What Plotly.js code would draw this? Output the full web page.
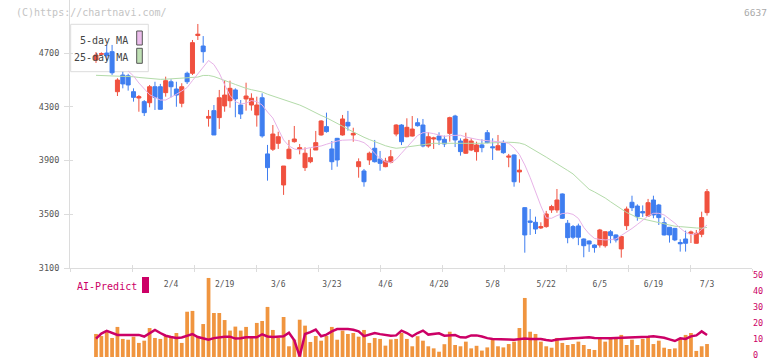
<!DOCTYPE html>
<html><head><meta charset="utf-8">
<script src="https://cdn.plot.ly/plotly-3.0.1.min.js"></script>
<style>html,body{margin:0;padding:0;background:#fff;}#chart{width:772px;height:361px;}</style>
</head><body><div id="chart"></div>
<script>
const dates = ['1/15','1/16','1/19','1/20','1/21','1/22','1/23','1/26','1/27','1/28','1/29','1/30',
'2/2','2/3','2/4','2/5','2/6','2/9','2/10','2/12','2/13','2/16','2/17','2/18','2/19','2/20','2/24','2/25','2/26','2/27',
'3/2','3/3','3/4','3/5','3/6','3/9','3/10','3/11','3/12','3/13','3/16','3/17','3/18','3/19','3/23','3/24','3/25','3/26','3/27','3/30','3/31',
'4/1','4/2','4/3','4/6','4/7','4/8','4/9','4/10','4/13','4/14','4/15','4/16','4/17','4/20','4/21','4/22','4/23','4/24','4/27','4/28','4/30',
'5/1','5/7','5/8','5/11','5/12','5/13','5/14','5/15','5/18','5/19','5/20','5/21','5/22','5/25','5/26','5/27','5/28','5/29',
'6/1','6/2','6/3','6/4','6/5','6/8','6/9','6/10','6/11','6/12','6/15','6/16','6/17','6/18','6/19','6/22','6/23','6/24','6/25','6/26','6/29','6/30',
'7/1','7/2','7/3'];
const tickDates = ['2/4','2/19','3/6','3/23','4/6','4/20','5/8','5/22','6/5','6/19','7/3'];
const priceTicks = [3100,3500,3900,4300,4700];
const rightTicks = [0,10,20,30,40,50];

const openP = [4648,4690,4700,4710,4412,4536,4530,4412,4365,4338,4330,4449,4449,4405,4486,4432,4326,4549,4549,4830,
4752,4215,4271,4219,4306,4345,4425,4313,4358,4313,4239,4367,3949,3984,4028,3718,3914,4040,3985,3847,
3891,3978,4090,4152,3986,4065,4090,4184,4090,3854,3822,3904,3991,3911,3854,3887,4097,4164,4077,4082,
4181,4164,4008,4060,4082,4058,4102,4231,4045,3954,3978,3966,4016,4107,4002,3978,4035,3925,3941,3815,
3549,3450,3440,3398,3408,3532,3532,3651,3433,3408,3413,3316,3301,3271,3271,3266,3370,3346,3242,3415,
3589,3561,3520,3487,3606,3569,3437,3403,3395,3290,3316,3358,3284,3351,3512];
const highP = [4707,4705,4760,4760,4512,4560,4545,4437,4387,4350,4462,4486,4470,4524,4504,4486,4475,4561,4797,4916,
4826,4276,4313,4425,4499,4494,4437,4350,4479,4400,4375,4400,4016,4164,4114,3859,4053,4157,4023,3998,
3990,4120,4200,4256,4045,4068,4239,4269,4144,3916,3837,3966,4053,3971,3920,3978,4170,4170,4214,4231,
4214,4209,4110,4077,4110,4085,4226,4240,4065,4107,4065,4040,4058,4127,4065,4090,4050,3949,3945,3909,
3552,3539,3482,3440,3525,3570,3688,3655,3457,3420,3430,3320,3305,3276,3391,3372,3383,3350,3338,3557,
3638,3574,3566,3614,3638,3577,3477,3405,3398,3314,3378,3378,3383,3519,3688];
const lowP = [4626,4680,4640,4537,4380,4437,4420,4338,4263,4231,4296,4276,4280,4375,4370,4300,4296,4469,4536,4797,
4628,4152,4090,4135,4263,4293,4222,4209,4271,4271,4152,4070,3750,3971,3986,3644,3909,4033,3946,3822,
3880,3978,4085,4107,3830,3854,4085,4122,4040,3772,3705,3867,3885,3824,3850,3879,4080,4015,4073,4078,
4152,3998,3995,3986,4015,4000,4040,4000,3936,3949,3970,3899,3961,4028,3904,3978,3950,3850,3705,3735,
3214,3346,3353,3390,3400,3510,3511,3465,3284,3315,3270,3180,3220,3214,3252,3252,3284,3290,3177,3383,
3524,3452,3480,3482,3470,3420,3342,3289,3300,3222,3222,3286,3282,3329,3490];
const closeP = [4685,4695,4680,4553,4499,4470,4462,4370,4375,4256,4449,4370,4281,4494,4449,4387,4449,4486,4777,4840,
4710,4228,4090,4367,4387,4437,4358,4246,4380,4363,4313,4083,3847,4097,4077,3859,3984,4060,3995,3954,
3921,4033,4194,4115,3891,3904,4209,4157,4102,3891,3742,3954,3891,3879,3896,3928,4164,4040,4147,4134,
4159,4008,4077,4068,4053,4023,4219,4053,3966,4058,4045,4016,3996,4033,3995,4010,3958,3932,3742,3828,
3346,3440,3390,3408,3502,3557,3606,3470,3326,3329,3329,3266,3279,3252,3383,3370,3341,3309,3334,3539,
3549,3482,3510,3586,3495,3475,3346,3346,3309,3280,3284,3368,3358,3475,3668];
const ma5 = [null,null,null,null,null,null,4566,4529,4477,4432,4390,4369,4350,4350,4369,4393,4417,4443,4495,4547,
4600,4644,4614,4551,4463,4384,4339,4321,4326,4346,4338,4313,4261,4216,4134,4053,4008,3986,3978,3988,
3996,4002,4008,4021,4033,4045,4051,4055,4054,4047,4033,4001,3953,3915,3890,3885,3909,3954,3997,4042,
4086,4107,4107,4100,4087,4079,4086,4088,4088,4075,4064,4058,4051,4048,4047,4042,4036,4028,3993,3944,
3867,3774,3663,3562,3472,3470,3490,3505,3509,3499,3469,3402,3354,3320,3313,3309,3311,3316,3342,3365,
3394,3424,3454,3487,3507,3507,3495,3466,3434,3396,3365,3348,3355,3387,3420];
const ma25 = [4534,4533,4533,4531,4530,4529,4527,4523,4518,4514,4510,4507,4504,4505,4507,4509,4512,4514,4518,4521,
4533,4533,4525,4512,4494,4481,4466,4451,4437,4427,4421,4410,4393,4380,4367,4354,4339,4326,4313,4295,
4274,4254,4235,4218,4199,4175,4155,4133,4112,4093,4073,4056,4039,4023,4010,3999,3991,3995,4001,4006,
4013,4019,4024,4028,4028,4028,4028,4027,4024,4023,4025,4027,4028,4030,4032,4032,4034,4036,4034,4030,
4019,3997,3971,3949,3925,3900,3877,3852,3826,3800,3763,3725,3686,3666,3644,3621,3593,3565,3537,3513,
3495,3474,3465,3456,3448,3438,3428,3418,3411,3408,3403,3400,3398,3396,3402];
const volume = [14.4,13.1,16.5,11.9,18.8,11.3,10.8,12.7,8.8,10.2,18.1,11.9,11.3,13.8,12.9,15.0,8.8,28.3,28.8,12.7,
20.6,49.4,27.5,27.5,23.1,16.5,19.0,16.5,18.8,11.9,21.3,22.5,31.3,16.9,11.9,25.0,6.7,10.8,23.3,19.6,
9.4,13.1,10.2,13.1,18.8,10.8,16.5,14.4,15.0,12.7,16.9,8.8,11.9,11.3,7.1,11.0,11.3,15.0,11.3,6.7,
13.0,10.2,6.7,5.4,3.3,8.0,15.8,7.5,6.7,9.6,5.4,7.0,4.0,6.0,11.3,6.7,6.0,8.1,9.6,18.1,
36.9,15.8,14.4,9.6,6.7,5.8,11.9,8.8,7.5,8.1,9.6,7.5,5.0,4.4,11.3,9.6,11.3,12.5,13.8,7.5,
10.8,7.5,11.3,12.5,8.1,10.2,5.8,5.0,5.4,11.3,13.8,15.0,3.8,6.7,8.1];
const aiPredict = [11.5,14.6,16.3,15.2,13.8,13.8,13.8,13.8,13.8,12.8,14.8,16.9,15.0,13.3,12.5,11.9,12.2,13.3,14.3,12.5,
11.5,10.8,11.8,12.4,12.6,12.7,11.5,11.7,12.3,12.3,12.3,14.2,12.8,12.5,12.7,13.0,15.2,10.4,0.4,14.4,
15.5,17.1,13.0,14.0,16.0,17.5,17.5,17.5,17.0,16.0,13.0,14.0,15.0,14.3,13.7,13.3,13.5,16.5,15.0,13.0,
15.0,16.5,14.0,14.3,14.8,13.3,13.3,13.7,12.3,12.2,13.5,13.5,12.8,11.8,11.3,11.3,11.3,11.0,10.8,11.2,
11.6,11.3,11.3,11.3,10.6,10.2,10.9,11.3,11.5,11.7,11.9,12.2,12.3,11.9,11.7,11.7,11.7,11.8,11.9,12.0,
12.0,12.1,12.3,12.6,12.9,12.5,12.0,11.0,10.0,11.7,11.3,12.9,13.5,16.0,13.8];

const RED = '#f0513f', BLUE = '#3f7ef0', GRID = '#dcdcdc', MAG = '#cc0066';
const FONT = 'DejaVu Sans Mono';

const traces = [
  {type:'scatter', mode:'lines', x:dates, y:ma25, line:{color:'#b3dba9', width:1}, hoverinfo:'skip', connectgaps:false},
  {type:'scatter', mode:'lines', x:dates, y:ma5, line:{color:'#e8b3e8', width:1}, hoverinfo:'skip', connectgaps:false},
  {type:'candlestick', x:dates, open:openP, high:highP, low:lowP, close:closeP,
   increasing:{line:{color:RED, width:1}, fillcolor:RED},
   decreasing:{line:{color:BLUE, width:1}, fillcolor:BLUE},
   whiskerwidth:0, hoverinfo:'skip'},
  {type:'bar', x:dates, y:volume, xaxis:'x2', yaxis:'y2', marker:{color:'#f0953f', line:{width:0}}, hoverinfo:'skip'},
  {type:'scatter', mode:'lines', x:dates, y:aiPredict, xaxis:'x2', yaxis:'y2', line:{color:MAG, width:2.5}, hoverinfo:'skip'},
  {type:'scatter', mode:'lines', x:[null], y:[null], xaxis:'x3', yaxis:'y', hoverinfo:'skip'},
  {type:'scatter', mode:'lines', x:[null], y:[null], xaxis:'x4', yaxis:'y', hoverinfo:'skip'},
  {type:'scatter', mode:'lines', x:[null], y:[null], xaxis:'x', yaxis:'y3', hoverinfo:'skip'}
];

const H = 361, PW = 682;
const px = v => (v - 70) / PW;
const py = v => (H - v) / H;
const xr = [-4.85, 122.39];
const yr = [3100, 3100 + 268 / 0.134375];

const layout = {
  width:772, height:361, margin:{l:70, r:20, t:0, b:0},
  paper_bgcolor:'#ffffff', plot_bgcolor:'rgba(0,0,0,0)',
  showlegend:false, boxgap:0.25, boxgroupgap:0, bargap:0.3,
  font:{family:FONT, size:9, color:'#555'},
  xaxis:{type:'category', range:xr, domain:[0,1], anchor:'y', showline:true, linecolor:GRID, linewidth:1,
         ticks:'', tickvals:tickDates, ticktext:tickDates, tickfont:{family:FONT, size:8, color:'#555'},
         ticklabelstandoff:8, showgrid:false, zeroline:false, rangeslider:{visible:false}, fixedrange:true},
  xaxis2:{matches:'x', anchor:'y2', visible:false, showgrid:false, zeroline:false},
  xaxis3:{overlaying:'x', anchor:'y', range:[0, PW], tick0:0, dtick:62, ticks:'outside', ticklen:3, tickcolor:GRID,
          showticklabels:false, showgrid:false, zeroline:false, showline:false},
  xaxis4:{overlaying:'x', anchor:'y', range:[0, PW], tick0:0, dtick:62, ticks:'inside', ticklen:3, tickcolor:GRID,
          showticklabels:false, showgrid:false, zeroline:false, showline:false},
  yaxis:{domain:[(H-268)/H, 1], range:yr, anchor:'x', tickvals:priceTicks, ticks:'outside', ticklen:5, tickcolor:GRID,
         showline:true, linecolor:GRID, linewidth:1, showgrid:false, zeroline:false,
         tickfont:{family:FONT, size:8.5, color:'#555'}, ticklabelstandoff:3},
  yaxis3:{overlaying:'y', anchor:'x', range:yr, tickvals:priceTicks, ticks:'inside', ticklen:3, tickcolor:GRID,
          showticklabels:false, showgrid:false, zeroline:false, showline:false},
  yaxis2:{domain:[4/H, 84/H], range:[0,50], anchor:'x2', side:'right', tickvals:rightTicks, ticks:'',
          ticklabeloverflow:'allow', ticklabelshift:-2, showgrid:false, zeroline:false, showline:false,
          tickfont:{family:FONT, size:8.5, color:MAG}},
  shapes:[
    {type:'rect', xref:'paper', yref:'paper', x0:px(70.7), x1:px(148.3), y0:py(71.7), y1:py(24.3),
     line:{color:GRID, width:1}, fillcolor:'rgba(255,255,255,0.9)', layer:'below'},
    {type:'rect', xref:'paper', yref:'paper', x0:px(136.7), x1:px(142.3), y0:py(45), y1:py(31),
     line:{color:'#555', width:1}, fillcolor:'#ecbdec', layer:'below'},
    {type:'rect', xref:'paper', yref:'paper', x0:px(136.7), x1:px(142.3), y0:py(63.3), y1:py(48.3),
     line:{color:'#555', width:1}, fillcolor:'#bfe0b4', layer:'below'},
    {type:'rect', xref:'paper', yref:'paper', x0:px(142), x1:px(149), y0:py(293), y1:py(277),
     line:{width:0}, fillcolor:MAG}
  ],
  annotations:[
    {xref:'paper', yref:'paper', x:px(14), y:py(12.5), xanchor:'left', yanchor:'middle', showarrow:false,
     text:'(C)https://chartnavi.com/', font:{family:FONT, size:10, color:'#c4c4c4'}},
    {xref:'paper', yref:'paper', x:px(769), y:py(12.5), xanchor:'right', yanchor:'middle', showarrow:false,
     text:'6637', font:{family:FONT, size:9.5, color:'#aaaaaa'}},
    {xref:'paper', yref:'paper', x:px(130), y:py(40.7), xanchor:'right', yanchor:'middle', showarrow:false,
     text:'5-day MA', font:{family:FONT, size:10, color:'#444'}},
    {xref:'paper', yref:'paper', x:px(130), y:py(57), xanchor:'right', yanchor:'middle', showarrow:false,
     text:'25-day MA', font:{family:FONT, size:10, color:'#444'}},
    {xref:'paper', yref:'paper', x:px(75), y:py(286), xanchor:'left', yanchor:'middle', showarrow:false,
     text:'AI-Predict', font:{family:FONT, size:10, color:MAG}}
  ]
};

Plotly.newPlot('chart', traces, layout, {staticPlot:true, displayModeBar:false});
</script>
</body></html>
